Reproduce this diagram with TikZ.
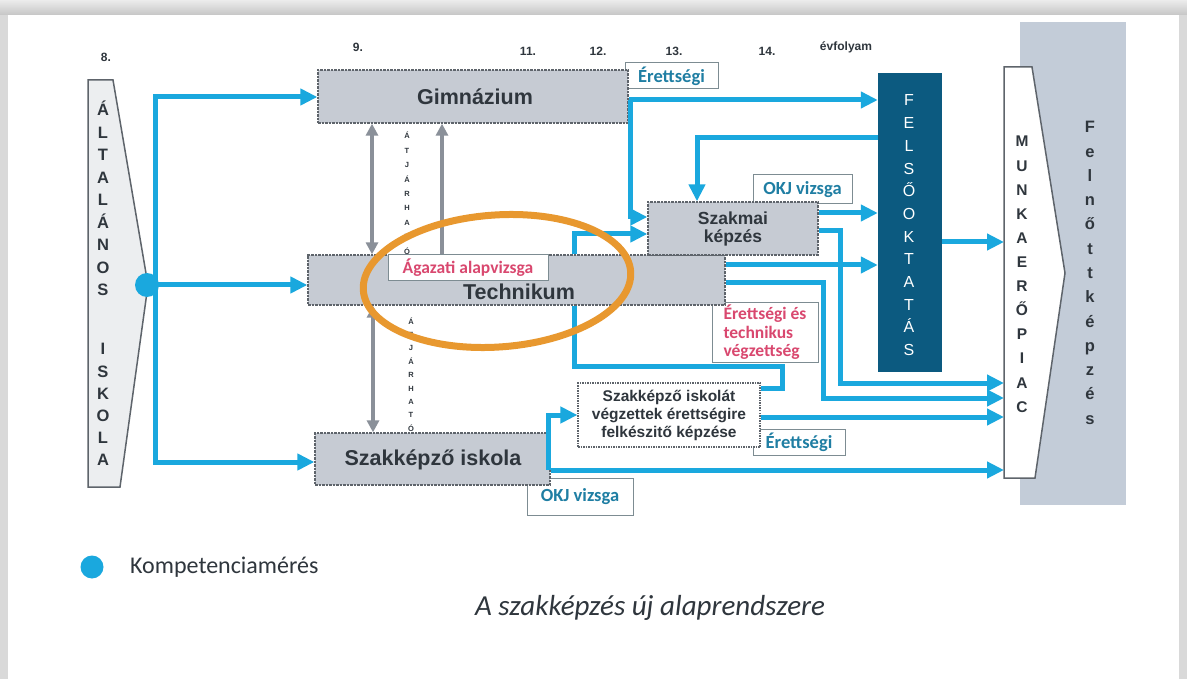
\documentclass[tikz,border=0pt]{standalone}
\usepackage{fontspec}
\setmainfont{Liberation Sans}
\newfontfamily\calib{Carlito}
\usetikzlibrary{arrows.meta}
\definecolor{flow}{HTML}{1AA8DE}
\definecolor{boxgray}{HTML}{C6CBD3}
\definecolor{boxline}{HTML}{5E646B}
\definecolor{txt}{HTML}{2F363D}
\definecolor{pinktxt}{HTML}{D9486F}
\definecolor{tealtxt}{HTML}{1F7EA3}
\definecolor{felsoblue}{HTML}{0C5A80}
\definecolor{colgray}{HTML}{C3CCD8}
\definecolor{orng}{HTML}{E8982F}
\definecolor{passgray}{HTML}{8A9099}
\definecolor{lblline}{HTML}{7D8C92}
\definecolor{alagray}{HTML}{ECEEF0}
\tikzset{
 flowline/.style={draw=flow, line width=5pt},
 flowarrow/.style={draw=flow, line width=5pt, -{Triangle[length=17pt,width=16pt]}},
 passdouble/.style={draw=passgray, line width=4.5pt, {Triangle[length=12pt,width=12pt]}-{Triangle[length=12pt,width=12pt]}},
 passsingle/.style={draw=passgray, line width=4.5pt, -{Triangle[length=12pt,width=12pt]}},
 schoolbox/.style={draw=boxline, fill=boxgray, line width=1.3pt, dash pattern=on 2.5pt off 1pt, inner sep=0pt},
 schooltext/.style={font=\bfseries\fontsize{21.5}{24}\selectfont, text=txt, inner sep=0pt},
 labelbox/.style={draw=lblline, fill=white, line width=1pt, inner sep=0pt},
 tealtext/.style={font=\calib\bfseries\fontsize{18.5}{18.5}\selectfont, text=tealtxt},
 pinktext/.style={font=\calib\bfseries\fontsize{17.5}{18.5}\selectfont, text=pinktxt, align=left},
 yeartext/.style={font=\bfseries\fontsize{12}{14}\selectfont, text=txt, inner sep=0pt},
 vletter/.style={font=\bfseries\fontsize{16.5}{16}\selectfont, text=txt, inner sep=0pt, anchor=base},
 passletter/.style={font=\bfseries\fontsize{7.5}{7}\selectfont, text=txt, inner sep=0pt, anchor=base},
}
\begin{document}
\begin{tikzpicture}[x=1pt,y=-1pt,line join=miter]
\useasboundingbox (0,0) rectangle (1187,679);
% page frame
\fill[gray!30] (0,0) rectangle (1187,679);
\fill[top color=gray!15, bottom color=gray!45] (0,0) rectangle (1187,15);
\fill[white] (8,15) rectangle (1179,679);

% adult education column
\node[fill=colgray, minimum width=106pt, minimum height=483pt, inner sep=0pt] (adult) at (1073,263.5) {};
\foreach \ch [count=\i from 0] in {F,e,l,n,ő,t,t,k,é,p,z,é,s}
  \node[vletter] (fk\i) at (1090,133+24.25*\i) {\ch};

% year numbers
\node[yeartext] (y8) at (106,57) {8.};
\node[yeartext] (y9) at (358,47) {9.};
\node[yeartext] (y11) at (528,51) {11.};
\node[yeartext] (y12) at (598,51) {12.};
\node[yeartext] (y13) at (674,51) {13.};
\node[yeartext] (y14) at (767,51) {14.};
\node[yeartext] (yev) at (846,47) {évfolyam};

% label boxes
\node[labelbox, minimum width=93pt, minimum height=26pt] (eret1) at (671.5,76) {};
\node[tealtext] at (eret1) {Érettségi};
\node[labelbox, minimum width=99pt, minimum height=29pt] (okj1) at (802.5,189.5) {};
\node[tealtext] at (okj1) {OKJ vizsga};
\node[labelbox, minimum width=106pt, minimum height=60pt] (erettech) at (765,332.5) {};
\node[pinktext] at (erettech) {Érettségi és\\technikus\\végzettség};
\node[labelbox, minimum width=92pt, minimum height=26pt] (eret2) at (799,442) {};
\node[tealtext] at (eret2) {Érettségi};
\node[labelbox, minimum width=106pt, minimum height=37pt] (okj2) at (580,496.5) {};
\node[tealtext] at (okj2) {OKJ vizsga};

% school boxes
\node[schoolbox, minimum width=310pt, minimum height=53pt] (gim) at (473,96.5) {};
\node[schooltext] (gimt) at (475,97) {Gimnázium};
\node[schoolbox, minimum width=417pt, minimum height=50pt] (tech) at (516.5,280) {};
\node[schooltext] (techt) at (519,292) {Technikum};
\node[schoolbox, minimum width=235pt, minimum height=52pt] (szi) at (432.5,459) {};
\node[schooltext] (szit) at (433,460) {Szakképző iskola};
\node[schoolbox, minimum width=170pt, minimum height=53pt] (szk) at (733,228.5) {};
\node[font=\bfseries\fontsize{17.5}{18}\selectfont, text=txt, align=center, inner sep=0pt] (szkt) at (733,229) {Szakmai\\képzés};
\node[draw=boxline, fill=white, line width=1.2pt, dash pattern=on 1.5pt off 1pt, minimum width=182pt, minimum height=64pt, inner sep=0pt] (szie) at (669,415) {};
\node[font=\bfseries\fontsize{15.5}{18}\selectfont, text=txt, align=center, inner sep=0pt] (sziet) at (669,415) {Szakképző iskolát\\végzettek érettségire\\felkészitő képzése};
\node[labelbox, minimum width=160pt, minimum height=26pt] (agaz) at (468,268) {};
\node[pinktext] at (agaz) {Ágazati alapvizsga};

% higher education
\node[fill=felsoblue, minimum width=64pt, minimum height=299pt, inner sep=0pt] (felso) at (910,222.5) {};
\foreach \ch [count=\i from 0] in {F,E,L,S,Ő,O,K,T,A,T,Á,S}
  \node[font=\fontsize{16}{16}\selectfont, text=white, inner sep=0pt, anchor=base] (fo\i) at (909,106+22.7*\i) {\ch};

% general school and labour market shapes
\draw[fill=alagray, draw=boxline, line width=1.5pt] (88,80) -- (113,80) -- (148,285) -- (120,487) -- (88,487) -- cycle;
\coordinate (ala) at (148,285);
\foreach \ch [count=\i from 0] in {Á,L,T,A,L,Á,N,O,S}
  \node[vletter] (al\i) at (103,116+22.5*\i) {\ch};
\foreach \ch [count=\i from 0] in {I,S,K,O,L,A}
  \node[vletter] (is\i) at (103,355+22*\i) {\ch};

\draw[fill=white, draw=boxline, line width=1.5pt] (1004,67) -- (1032,67) -- (1065,273) -- (1035,478) -- (1004,478) -- cycle;
\coordinate (munka) at (1004,273);
\foreach \ch [count=\i from 0] in {M,U,N,K,A,E,R,Ő,P,I,A,C}
  \node[font=\bfseries\fontsize{15.5}{15}\selectfont, text=txt, inner sep=0pt, anchor=base] (mk\i) at (1022,147+24.1*\i) {\ch};

% passability arrows
\draw[passdouble] (gim.south -| 372,0) -- (tech.north -| 372,0);
\draw[passsingle] (tech.north -| 442,0) -- (gim.south -| 442,0);
\draw[passdouble] (tech.south -| 373,0) -- (szi.north -| 373,0);
\foreach \ch [count=\i from 0] in {Á,T,J,Á,R,H,A,T,Ó}
  \node[passletter] (pa\i) at (407,139+14.4*\i) {\ch};
\foreach \ch [count=\i from 0] in {Á,T,J,Á,R,H,A,T,Ó}
  \node[passletter] (pb\i) at (411,324+13.4*\i) {\ch};

% blue flows from general school
\coordinate (tr1) at (155,97);
\coordinate (tr2) at (155,462);
\draw[flowarrow] (tr2) -- (tr1) -- (tr1 -| gim.west);
\draw[flowarrow] (tr1) -- (tr2) -- (tr2 -| szi.west);
\draw[flowarrow] (ala) -- (ala -| tech.west);
\node[circle, fill=flow, minimum size=24pt, inner sep=0pt] (dot) at (147,285) {};

% gimnazium outputs
\coordinate (gx) at (630,100);
\draw[flowarrow] (gim.east |- gx) -- (felso.west |- gx);
\draw[flowarrow] (gx) |- (szk.west |- 0,217);
% higher education back to vocational training
\draw[flowarrow] (felso.west |- 0,138) -| (szk.north -| 697,0);
% technikum to vocational training
\draw[flowarrow] (tech.north -| 574,0) |- (szk.west |- 0,234);
\draw[flowline] (tech.south -| 574,0) |- (782,366) |- (szie.east |- 0,388);
% technikum outputs
\draw[flowarrow] (tech.east |- 0,265) -- (felso.west |- 0,265);
\draw[flowarrow] (tech.east |- 0,283) -| (823,340) |- (munka |- 0,398);
% szakmai kepzes outputs
\draw[flowarrow] (szk.east |- 0,213) -- (felso.west |- 0,213);
\draw[flowarrow] (szk.east |- 0,231) -| (840,300) |- (munka |- 0,383);
% higher education to labour market
\draw[flowarrow] (felso.east |- 0,242) -- (munka |- 0,242);
% szakkepzo iskolat box output
\draw[flowarrow] (szie.east |- 0,417) -- (munka |- 0,417);
% szakkepzo iskola outputs
\draw[flowarrow] (szi.east |- 0,470) -- (munka |- 0,470);
\draw[flowarrow] (548,470) |- (szie.west |- 0,415);

% highlight ellipse
\draw[orng, line width=7pt, rotate around={4:(497,281)}] (497,281) ellipse [x radius=134pt, y radius=66pt];

% legend and caption
\node[circle, fill=flow, minimum size=23pt, inner sep=0pt] (legdot) at (92,567) {};
\node[anchor=west, font=\calib\fontsize{24}{28}\selectfont, text=txt, inner sep=0pt] (legtxt) at (130,567) {Kompetenciamérés};
\node[font=\calib\itshape\fontsize{29}{32}\selectfont, text=txt, inner sep=0pt] (caption) at (650,608) {A szakképzés új alaprendszere};
\end{tikzpicture}
\end{document}
